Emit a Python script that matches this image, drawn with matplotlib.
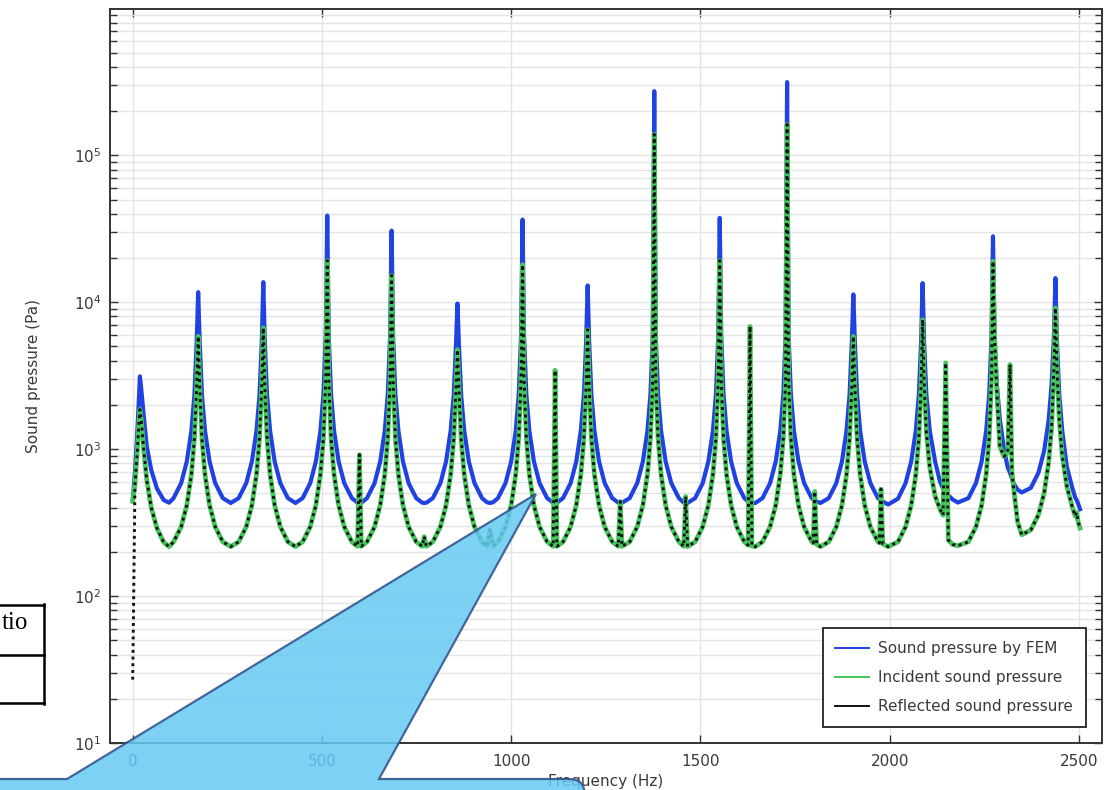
import matplotlib
matplotlib.use("Agg")
import matplotlib.pyplot as plt
from matplotlib.patches import Polygon
from matplotlib.lines import Line2D
from matplotlib.ticker import LogLocator, NullFormatter, MultipleLocator

# ---- data (frequency in Hz, pressure in Pa) ----
freq_hz = [
    0, 6, 12, 16, 19,
    23, 29, 37, 49, 64, 82, 96,
    108, 128, 143, 155, 163, 169, 173,
    177, 183, 191, 203, 218, 238, 259,
    280, 300, 315, 327, 335, 341, 345,
    349, 355, 363, 375, 390, 410, 430,
    449, 469, 484, 496, 504, 510, 514,
    518, 524, 532, 544, 559, 579, 594, 599, 604,
    619, 639, 654, 666, 674, 680, 684,
    688, 694, 702, 714, 729, 749, 765, 770, 776,
    793, 813, 828, 840, 848, 854, 858,
    862, 868, 876, 888, 903, 923, 936, 944, 952,
    965, 985, 1000, 1012, 1020, 1026, 1030,
    1034, 1040, 1048, 1060, 1075, 1095, 1111, 1116, 1121,
    1137, 1157, 1172, 1184, 1192, 1198, 1202,
    1206, 1212, 1220, 1232, 1247, 1267, 1283, 1288, 1293,
    1313, 1333, 1348, 1360, 1368, 1374, 1378,
    1382, 1388, 1396, 1408, 1423, 1443, 1456, 1461, 1466,
    1486, 1506, 1521, 1533, 1541, 1547, 1551,
    1555, 1561, 1569, 1581, 1596, 1616, 1626, 1631, 1636, 1645,
    1664, 1684, 1699, 1711, 1719, 1725, 1729,
    1733, 1739, 1747, 1759, 1774, 1794, 1798, 1802, 1807, 1817,
    1839, 1859, 1874, 1886, 1894, 1900, 1904,
    1908, 1914, 1922, 1934, 1949, 1969, 1973, 1977, 1982, 1996,
    2022, 2042, 2057, 2069, 2077, 2083, 2087,
    2091, 2097, 2106, 2120, 2133, 2141, 2148, 2155, 2166, 2180,
    2208, 2228, 2243, 2255, 2263, 2269, 2273,
    2277, 2283, 2291, 2302, 2312, 2318, 2323, 2327, 2338, 2349,
    2373, 2393, 2408, 2420, 2428, 2434, 2438,
    2442, 2448, 2456, 2468, 2483, 2490, 2494, 2498, 2503,
]

fem_pa = [
    445, 700, 1300, 2100, 3130,
    2500, 1700, 1050, 720, 540, 450, 432,
    464, 587, 825, 1333, 2330, 5370, 11700,
    5370, 2330, 1333, 825, 587, 464, 430,
    464, 587, 825, 1333, 2330, 5370, 13700,
    5370, 2330, 1333, 825, 587, 464, 430,
    464, 587, 825, 1333, 2365, 5890, 38900,
    5890, 2365, 1333, 825, 587, 464, 432, 430, 432,
    464, 587, 825, 1333, 2365, 5890, 30700,
    5890, 2365, 1333, 825, 587, 464, 432, 430, 432,
    464, 587, 825, 1333, 2300, 5040, 9800,
    5040, 2300, 1333, 825, 587, 464, 435, 430, 435,
    464, 587, 825, 1333, 2365, 5890, 36500,
    5890, 2365, 1333, 825, 587, 464, 432, 430, 432,
    464, 587, 825, 1333, 2330, 5370, 13000,
    5370, 2330, 1333, 825, 587, 464, 432, 430, 432,
    464, 587, 825, 1333, 2365, 5890, 273000,
    5890, 2365, 1333, 825, 587, 464, 433, 431, 430,
    464, 587, 825, 1333, 2365, 5890, 37500,
    5890, 2365, 1333, 825, 587, 464, 440, 435, 432, 430,
    464, 587, 825, 1333, 2365, 5890, 315000,
    5890, 2365, 1333, 825, 587, 464, 455, 448, 441, 430,
    464, 587, 825, 1333, 2330, 5370, 11300,
    5370, 2330, 1333, 825, 587, 464, 455, 448, 440, 420,
    460, 587, 825, 1333, 2330, 5370, 13500,
    5370, 2330, 1333, 825, 600, 540, 510, 485, 455, 433,
    464, 587, 825, 1333, 2365, 5890, 28100,
    5890, 2800, 1600, 1000, 750, 690, 630, 588, 530, 507,
    545, 690, 970, 1570, 2790, 6000, 14600,
    5400, 2370, 1330, 760, 540, 470, 450, 425, 390,
]

incident_pa = [
    441, 580, 950, 1450, 1860,
    1550, 1000, 620, 400, 290, 232, 217,
    234, 296, 416, 670, 1180, 2700, 5860,
    2700, 1180, 670, 416, 296, 234, 217,
    234, 296, 416, 670, 1180, 2700, 6700,
    2700, 1180, 670, 416, 296, 234, 217,
    234, 296, 416, 673, 1194, 2970, 19200,
    2970, 1194, 673, 416, 296, 234, 218, 916, 218,
    234, 296, 416, 673, 1194, 2970, 15200,
    2970, 1194, 673, 416, 296, 234, 218, 254, 218,
    234, 296, 416, 670, 1160, 2540, 4750,
    2540, 1160, 670, 416, 296, 234, 218, 283, 218,
    234, 296, 416, 673, 1194, 2970, 18000,
    2970, 1194, 673, 416, 296, 234, 218, 3440, 218,
    234, 296, 416, 670, 1180, 2700, 6500,
    2700, 1180, 670, 416, 296, 234, 218, 440, 218,
    234, 296, 416, 673, 1194, 2970, 139000,
    2970, 1194, 673, 416, 296, 234, 218, 476, 217,
    234, 296, 416, 673, 1194, 2970, 19200,
    2970, 1194, 673, 416, 296, 234, 222, 6850, 219, 217,
    234, 296, 416, 673, 1194, 2970, 162000,
    2970, 1194, 673, 416, 296, 234, 230, 515, 225, 217,
    234, 296, 416, 670, 1180, 2700, 5860,
    2700, 1180, 670, 416, 296, 234, 230, 535, 226, 217,
    234, 296, 416, 670, 1180, 2700, 7600,
    2900, 1300, 750, 480, 390, 355, 3870, 240, 225, 220,
    234, 296, 416, 673, 1194, 2970, 19000,
    6000, 2500, 1043, 891, 950, 3760, 700, 557, 320, 261,
    282, 357, 500, 810, 1435, 3580, 9150,
    3600, 1600, 900, 560, 400, 350, 370, 320, 290,
]

reflected_pa = [
    27, 580, 950, 1450, 1860,
    1550, 1000, 620, 400, 290, 232, 217,
    234, 296, 416, 670, 1180, 2700, 5860,
    2700, 1180, 670, 416, 296, 234, 217,
    234, 296, 416, 670, 1180, 2700, 6700,
    2700, 1180, 670, 416, 296, 234, 217,
    234, 296, 416, 673, 1194, 2970, 19200,
    2970, 1194, 673, 416, 296, 234, 218, 916, 218,
    234, 296, 416, 673, 1194, 2970, 15200,
    2970, 1194, 673, 416, 296, 234, 218, 254, 218,
    234, 296, 416, 670, 1160, 2540, 4750,
    2540, 1160, 670, 416, 296, 234, 218, 283, 218,
    234, 296, 416, 673, 1194, 2970, 18000,
    2970, 1194, 673, 416, 296, 234, 218, 3440, 218,
    234, 296, 416, 670, 1180, 2700, 6500,
    2700, 1180, 670, 416, 296, 234, 218, 440, 218,
    234, 296, 416, 673, 1194, 2970, 139000,
    2970, 1194, 673, 416, 296, 234, 218, 476, 217,
    234, 296, 416, 673, 1194, 2970, 19200,
    2970, 1194, 673, 416, 296, 234, 222, 6850, 219, 217,
    234, 296, 416, 673, 1194, 2970, 162000,
    2970, 1194, 673, 416, 296, 234, 230, 515, 225, 217,
    234, 296, 416, 670, 1180, 2700, 5860,
    2700, 1180, 670, 416, 296, 234, 230, 535, 226, 217,
    234, 296, 416, 670, 1180, 2700, 7600,
    2900, 1300, 750, 480, 390, 355, 3870, 240, 225, 220,
    234, 296, 416, 673, 1194, 2970, 19000,
    6000, 2500, 1043, 891, 950, 3760, 700, 557, 320, 261,
    282, 357, 500, 810, 1435, 3580, 9150,
    3600, 1600, 900, 560, 400, 350, 370, 320, 290,
]

series_labels = ["Sound pressure by FEM", "Incident sound pressure", "Reflected sound pressure"]
x_label = "Frequency (Hz)"
y_label = "Sound pressure (Pa)"
table_text = "tio"   # what is left of the cut table heading

blue = "#2142e2"
green = "#45c45a"
black = "#111111"
grey_txt = "#3a3a3a"
grid_c = "#e4e4e4"

W, H = 1112, 790
fig = plt.figure(figsize=(W / 100, H / 100), dpi=100)
ax = fig.add_axes([110 / W, 1 - 743 / H, 992 / W, 734 / H])


def px(x, y):
    # screen pixel -> figure fraction
    return (x / W, 1 - y / H)


ax.plot(freq_hz, fem_pa, color=blue, lw=3.0, zorder=3)
ax.plot(freq_hz, incident_pa, color=green, lw=3.4, zorder=4)
ax.plot(freq_hz, reflected_pa, color=black, lw=2.1, linestyle=(0, (1, 1.3)), zorder=5)

ax.set_yscale("log")
ax.set_xlim(-60, 2561)
ax.set_ylim(10, 9.9e5)

ax.xaxis.set_major_locator(MultipleLocator(500))
ax.yaxis.set_major_locator(LogLocator(base=10, numticks=10))
ax.yaxis.set_minor_locator(LogLocator(base=10, subs=range(2, 10), numticks=100))
ax.yaxis.set_minor_formatter(NullFormatter())

ax.grid(True, which="major", color=grid_c, lw=1.0)
ax.grid(True, which="minor", axis="y", color=grid_c, lw=1.0)
ax.set_axisbelow(True)

ax.tick_params(which="both", direction="in", top=True, right=True,
               color="#333333", width=1.0, labelcolor=grey_txt, labelsize=11)
ax.tick_params(which="major", length=6)
ax.tick_params(which="minor", length=5)
ax.tick_params(axis="x", pad=8)
ax.tick_params(axis="y", pad=6)
for s in ax.spines.values():
    s.set_color("#333333")
    s.set_linewidth(1.4)

ax.set_xlabel(x_label, fontsize=11, color=grey_txt)
ax.set_ylabel(y_label, fontsize=11, color=grey_txt)
ax.xaxis.set_label_coords(0.5, -0.042)
ax.yaxis.set_label_coords(-0.070, 0.5)

handles = [Line2D([], [], color=blue, lw=1.4),
           Line2D([], [], color=green, lw=1.4),
           Line2D([], [], color=black, lw=1.4)]
leg = ax.legend(handles, series_labels, loc="lower right", bbox_to_anchor=(0.984, 0.022),
                borderaxespad=0, frameon=True, fancybox=False, framealpha=1,
                edgecolor="#222222", fontsize=11, handlelength=2.2, handletextpad=0.6,
                labelspacing=0.9, borderpad=0.85)
leg.get_frame().set_linewidth(1.3)
leg.set_zorder(10)
for t in leg.get_texts():
    t.set_color(grey_txt)

# piece of a table cut at the left edge of the page
for seg in [[(-5, 605), (44, 605)], [(-5, 655), (44, 655)], [(-5, 703), (44, 703)],
            [(44, 604), (44, 704)]]:
    (x0, y0), (x1, y1) = px(*seg[0]), px(*seg[1])
    fig.add_artist(Line2D([x0, x1], [y0, y1], color="black", lw=1.8,
                          transform=fig.transFigure))
fig.text(*px(28, 629), table_text, ha="right", va="baseline", fontsize=18,
         family="Liberation Serif", color="black")

# callout shape lying over the chart
callout = [(-10, 779), (67, 779), (536, 494), (379, 779), (570, 779),
           (576, 780), (580, 782), (583, 786), (585, 792), (586, 800), (-10, 800)]
poly = Polygon([px(x, y) for x, y in callout], closed=True, transform=fig.transFigure,
               facecolor="#66caf3", alpha=0.85, edgecolor="#2e4e8c", lw=1.6,
               clip_on=False, zorder=20)
fig.add_artist(poly)

fig.savefig("out.png", dpi=100)
